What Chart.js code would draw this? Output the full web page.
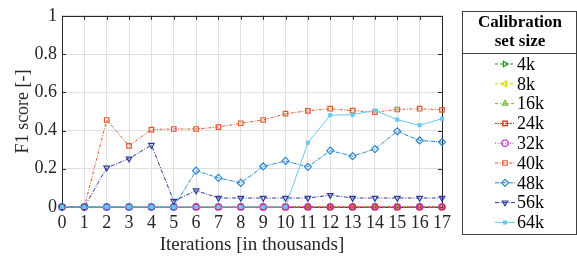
<!DOCTYPE html>
<html>
<head>
<meta charset="utf-8">
<script src="https://cdn.jsdelivr.net/npm/chart.js@4.4.0/dist/chart.umd.min.js"></script>
<style>
  html, body { margin: 0; padding: 0; background: #fff; }
  #wrap { width: 577px; height: 260px; position: relative; }
</style>
</head>
<body>
<div id="wrap"><canvas id="myChart" width="577" height="260"></canvas></div>
<script>
// data
const iterations = [0, 1, 2, 3, 4, 5, 6, 7, 8, 9, 10, 11, 12, 13, 14, 15, 16, 17];
const yTicks = [0, 0.2, 0.4, 0.6, 0.8, 1];
const f1_4k  = [0, 0, 0, 0, 0, 0, 0, 0, 0, 0, 0, 0, 0, 0, 0, 0, 0, 0];
const f1_8k  = [0, 0, 0, 0, 0, 0, 0, 0, 0, 0, 0, 0, 0, 0, 0, 0, 0, 0];
const f1_16k = [0, 0, 0, 0, 0, 0, 0, 0, 0, 0, 0, 0, 0, 0, 0, 0, 0, 0];
const f1_24k = [0, 0, 0, 0, 0, 0, 0, 0, 0, 0, 0, 0, 0, 0, 0, 0, 0, 0];
const f1_32k = [0, 0, 0, 0, 0, 0, 0, 0, 0, 0, 0, 0, 0, 0, 0, 0, 0, 0];
const f1_40k = [0, 0, 0.455, 0.32, 0.405, 0.408, 0.408, 0.418, 0.438, 0.455, 0.488, 0.503, 0.514, 0.504, 0.496, 0.51, 0.514, 0.508];
const f1_48k = [0, 0, 0, 0, 0, 0, 0.19, 0.152, 0.126, 0.212, 0.241, 0.21, 0.295, 0.266, 0.303, 0.396, 0.348, 0.34];
const f1_56k = [0, 0, 0.205, 0.253, 0.324, 0.031, 0.086, 0.047, 0.047, 0.047, 0.047, 0.047, 0.062, 0.047, 0.047, 0.047, 0.047, 0.047];
const f1_64k = [0, 0, 0, 0, 0, 0, 0, 0, 0, 0, 0, 0.336, 0.48, 0.483, 0.505, 0.457, 0.427, 0.462];

const legendTitle = ['Calibration', 'set size'];
const serif = '"Liberation Serif", "DejaVu Serif", serif';

function series(label, values, color, style, rot, dash, fill) {
    return {
        label: label,
        data: values.map((v, i) => ({x: iterations[i], y: v})),
        borderColor: color,
        backgroundColor: fill || 'rgba(255,255,255,0)',
        pointBorderColor: color,
        pointBackgroundColor: fill || 'rgba(255,255,255,0)',
        pointStyle: style,
        pointRotation: rot,
        pointRadius: style === 'rectRot' ? 3.5 : 3.2,
        pointBorderWidth: 1.2,
        borderWidth: 1,
        borderDash: dash,
        clip: false,
        tension: 0
    };
}

const datasets = [
    series('4k',  f1_4k,  '#1a961a', 'triangle', 90,  [3, 2]),
    series('8k',  f1_8k,  '#d6d600', 'triangle', -90, [3, 2]),
    series('16k', f1_16k, '#7db735', 'triangle', 0,   [3, 2, 1, 2]),
    series('24k', f1_24k, '#ff1a1a', 'rect',     0,   [2, 1, 1, 1]),
    series('32k', f1_32k, '#cc22cc', 'circle',   0,   [1, 1.5]),
    series('40k', f1_40k, '#e0582c', 'rect',     0,   [3, 1.5, 1, 1.5]),
    series('48k', f1_48k, '#2a86d0', 'rectRot',  0,   [4, 1, 1, 1]),
    series('56k', f1_56k, '#2b3b9c', 'triangle', 180, [4, 1.5, 1, 1.5]),
    series('64k', f1_64k, '#66c8f0', 'rect',     0,   [], '#66c8f0')
];
datasets[8].pointRadius = 2;
// later series sit on top, like the original plot
datasets.forEach((ds, i) => { ds.order = datasets.length - i; });

// box around the plot with inward ticks (under the lines), legend table on the right
const frame = {
    id: 'frame',
    beforeDatasetsDraw(chart) {
        const ctx = chart.ctx;
        const a = chart.chartArea;
        const xs = chart.scales.x, ys = chart.scales.y;
        ctx.save();
        ctx.strokeStyle = '#262626';
        ctx.lineWidth = 1;
        ctx.beginPath();
        iterations.forEach(v => {
            const px = Math.round(xs.getPixelForValue(v)) + 0.5;
            ctx.moveTo(px, a.top); ctx.lineTo(px, a.top + 4);
            ctx.moveTo(px, a.bottom); ctx.lineTo(px, a.bottom - 4);
        });
        yTicks.forEach(v => {
            const py = Math.round(ys.getPixelForValue(v)) + 0.5;
            ctx.moveTo(a.left, py); ctx.lineTo(a.left + 4, py);
            ctx.moveTo(a.right, py); ctx.lineTo(a.right - 4, py);
        });
        ctx.stroke();
        ctx.strokeRect(Math.round(a.left) + 0.5, Math.round(a.top) + 0.5,
                       Math.round(a.right - a.left), Math.round(a.bottom - a.top));
        ctx.restore();
    },
    afterDraw(chart) {
        const ctx = chart.ctx;
        ctx.save();
        const lx = 462.5, ly = 11.5, lw = 114, lh = 223;
        ctx.strokeStyle = '#404040';
        ctx.lineWidth = 1;
        ctx.strokeRect(lx, ly, lw, lh);
        ctx.beginPath();
        ctx.moveTo(lx, 53.5); ctx.lineTo(lx + lw, 53.5);
        ctx.stroke();
        ctx.fillStyle = '#000';
        ctx.textAlign = 'center';
        ctx.textBaseline = 'middle';
        ctx.font = 'bold 17px ' + serif;
        ctx.fillText(legendTitle[0], 520, 23);
        ctx.fillText(legendTitle[1], 520, 42);
        ctx.textAlign = 'left';
        ctx.font = '18px ' + serif;
        chart.data.datasets.forEach((ds, i) => {
            const cy = 64 + i * 19.8;
            ctx.strokeStyle = ds.borderColor;
            ctx.lineWidth = 1;
            ctx.setLineDash(ds.borderDash);
            ctx.beginPath();
            ctx.moveTo(495, cy); ctx.lineTo(515, cy);
            ctx.stroke();
            ctx.setLineDash([]);
            ctx.fillStyle = ds.pointBackgroundColor;
            ctx.lineWidth = 1.2;
            Chart.helpers.drawPoint(ctx, {
                pointStyle: ds.pointStyle,
                rotation: ds.pointRotation,
                radius: ds.pointRadius,
                borderWidth: 1.2
            }, 505, cy);
            ctx.fillStyle = '#000';
            ctx.fillText(ds.label, 517, cy + 1);
        });
        ctx.restore();
    }
};

const config = {
    type: 'line',
    data: { datasets: datasets },
    options: {
        responsive: false,
        animation: false,
        layout: { padding: { top: 12, right: 135, left: 0, bottom: 0 } },
        plugins: { legend: { display: false }, tooltip: { enabled: false } },
        scales: {
            x: {
                type: 'linear',
                min: 0, max: 17,
                afterBuildTicks: s => { s.ticks = iterations.map(v => ({value: v})); },
                afterFit: s => { s.height = 53; },
                grid: { color: '#e0e0e0', drawTicks: false },
                border: { display: false },
                ticks: { color: '#262626', font: { family: serif, size: 18 }, padding: 5,
                         maxRotation: 0, autoSkip: false, callback: v => String(v) },
                title: { display: true, text: 'Iterations [in thousands]', color: '#262626',
                         font: { family: serif, size: 19 }, padding: { top: 0, bottom: 4 } }
            },
            y: {
                min: 0, max: 1,
                afterBuildTicks: s => { s.ticks = yTicks.map(v => ({value: v})); },
                afterFit: s => { s.width = 62; },
                grid: { color: '#e0e0e0', drawTicks: false },
                border: { display: false },
                ticks: { color: '#262626', font: { family: serif, size: 18 }, padding: 5,
                         callback: v => String(v) },
                title: { display: true, text: 'F1 score [-]', color: '#262626',
                         font: { family: serif, size: 18 }, padding: { top: 12, bottom: 0 } }
            }
        }
    },
    plugins: [frame]
};

const myChart = new Chart(document.getElementById('myChart'), config);
</script>
</body>
</html>
